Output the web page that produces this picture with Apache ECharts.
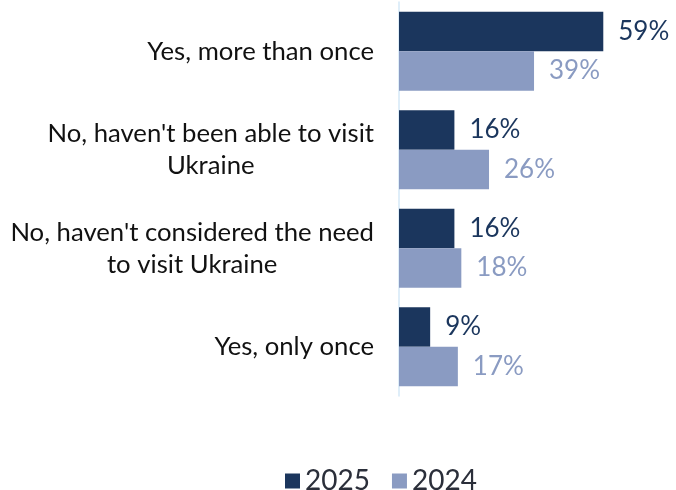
<!DOCTYPE html>
<html>
<head>
<meta charset="utf-8">
<script src="https://cdn.jsdelivr.net/npm/echarts@6/dist/echarts.min.js"></script>
<style>
  html, body { margin: 0; padding: 0; background: #ffffff; }
  #chart { width: 676px; height: 490px; }
</style>
</head>
<body>
<div id="chart"></div>
<script>
// Survey answers, top to bottom
const categories = [
  "Yes, more than once",
  "No, haven't been able to visit\nUkraine",
  "No, haven't considered the need\nto visit Ukraine",
  "Yes, only once"
];
const seriesNames = ["2025", "2024"];
const values2025 = [59, 16, 16, 9];
const values2024 = [39, 26, 18, 17];

const DARK = '#1b365d';
const LIGHT = '#8a9bc2';
const FONT = 'Lato, "Noto Sans", sans-serif';

const chart = echarts.init(document.getElementById('chart'));

function barSeries(name, data, color) {
  return {
    name: name,
    type: 'bar',
    data: data,
    barGap: '0%',
    barCategoryGap: '20%',
    itemStyle: { color: color },
    label: {
      show: true,
      position: 'right',
      distance: 15,
      formatter: '{c}%',
      color: color,
      fontFamily: FONT,
      fontSize: 26
    },
    emphasis: { disabled: true },
    animation: false
  };
}

chart.setOption({
  backgroundColor: '#ffffff',
  animation: false,
  grid: { left: 399, right: 0, top: 2, bottom: 94, containLabel: false },
  xAxis: {
    type: 'value',
    min: 0,
    max: 80,
    show: false
  },
  yAxis: {
    type: 'category',
    inverse: true,
    data: categories,
    axisLine: { show: true, lineStyle: { color: '#d5e8f7', width: 1.5 } },
    axisTick: { show: false },
    axisLabel: {
      margin: 25,
      align: 'right',
      fontFamily: FONT,
      fontSize: 25.7,
      lineHeight: 32,
      color: '#111111',
      formatter: function (v) {
        return v.split('\n').map(function (s) { return '{c|' + s + '}'; }).join('\n');
      },
      rich: {
        c: { align: 'center', fontFamily: FONT, fontSize: 25.7, lineHeight: 32, color: '#111111' }
      }
    }
  },
  legend: {
    data: seriesNames,
    left: 285,
    top: 467,
    padding: 0,
    icon: 'rect',
    itemWidth: 15,
    itemHeight: 15,
    itemGap: 22,
    textStyle: { fontFamily: FONT, fontSize: 28, color: '#2b2f3a', padding: [0, 0, 4, 0] }
  },
  series: [
    barSeries(seriesNames[0], values2025, DARK),
    barSeries(seriesNames[1], values2024, LIGHT)
  ]
});
</script>
</body>
</html>
